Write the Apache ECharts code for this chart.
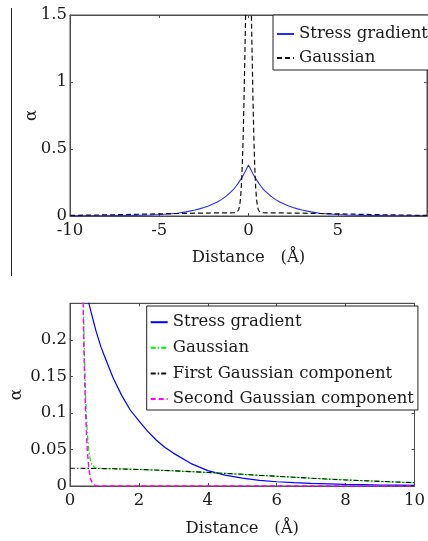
<!DOCTYPE html>
<html>
<head>
<meta charset="utf-8">
<style>
  html, body { margin: 0; padding: 0; background: #ffffff; }
  #chart { width: 428px; height: 541px; }
</style>
<script src="https://cdn.jsdelivr.net/npm/echarts@6/dist/echarts.min.js"></script>
</head>
<body>
<div id="chart"></div>
<script>
// ---- Data ----
// Distances (Å), non-negative side; profiles are symmetric about 0
const distPos = [0, 0.05, 0.1, 0.15, 0.2, 0.25, 0.3, 0.35, 0.4, 0.45, 0.5, 0.55, 0.6, 0.65, 0.7, 0.75, 0.8, 0.9, 1,
  1.25, 1.5, 1.75, 2, 2.25, 2.5, 2.75, 3, 3.5, 4, 4.5, 5, 5.5, 6, 6.5, 7, 7.5, 8, 8.5, 9, 9.5, 10];

const stressGradient = [0.38, 0.367, 0.354, 0.341, 0.328, 0.315, 0.303, 0.292, 0.281, 0.27, 0.26, 0.25, 0.24, 0.231, 0.222, 0.213, 0.205, 0.19, 0.178,
  0.148, 0.124, 0.104, 0.089, 0.075, 0.063, 0.053, 0.045, 0.031, 0.021, 0.0148, 0.0108, 0.0078, 0.0058, 0.0045, 0.0035, 0.0028, 0.0022, 0.0018, 0.0014, 0.0011, 0.0009];

const gaussianTotal = [2.2242, 2.1422, 1.9142, 1.5882, 1.2242, 0.8772, 0.5872, 0.3681, 0.2191, 0.1261, 0.0741, 0.0466, 0.0335, 0.0277, 0.0253, 0.0244, 0.0241, 0.0239, 0.0238,
  0.0236, 0.0233, 0.0230, 0.0226, 0.0222, 0.0218, 0.0213, 0.0208, 0.0197, 0.0185, 0.0173, 0.0160, 0.0146, 0.0133, 0.0120, 0.0107, 0.0095, 0.0083, 0.0073, 0.0063, 0.0054, 0.0046];

const firstGaussian = [0.0242, 0.0242, 0.0242, 0.0242, 0.0242, 0.0242, 0.0242, 0.0241, 0.0241, 0.0241, 0.0241, 0.0241, 0.0241, 0.0240, 0.0240, 0.0240, 0.0240, 0.0239, 0.0238,
  0.0236, 0.0233, 0.0230, 0.0226, 0.0222, 0.0218, 0.0213, 0.0208, 0.0197, 0.0185, 0.0173, 0.0160, 0.0146, 0.0133, 0.0120, 0.0107, 0.0095, 0.0083, 0.0073, 0.0063, 0.0054, 0.0046];

const secondGaussian = [2.2, 2.118, 1.890, 1.564, 1.200, 0.853, 0.563, 0.344, 0.195, 0.102, 0.050, 0.0225, 0.0094, 0.0037, 0.0013, 0.0004, 0.0001, 0, 0,
  0, 0, 0, 0, 0, 0, 0, 0, 0, 0, 0, 0, 0, 0, 0, 0, 0, 0, 0, 0, 0, 0];

const topLegend = ['Stress gradient', 'Gaussian'];
const bottomLegend = ['Stress gradient ', 'Gaussian ', 'First Gaussian component', 'Second Gaussian component'];
const xAxisTitle = 'Distance   (\u00C5)';
const yAxisTitle = '\u03B1';

// ---- Build tables ----
function half(vals) { return distPos.map((d, i) => [d, vals[i]]); }
function full(vals) {
  const neg = [];
  for (let i = distPos.length - 1; i > 0; i--) neg.push([-distPos[i], vals[i]]);
  return neg.concat(half(vals));
}

const FONT = 'DejaVu Serif';
const TXT = '#1a1a1a';
const BOX = '#4d4d4d';
const FS = 16.5;

function mainX(gridIndex, min, max, interval, showMax, nameGap) {
  return {
    type: 'value', gridIndex, min, max, interval, position: 'bottom',
    name: xAxisTitle, nameLocation: 'middle', nameGap, nameMoveOverlap: false,
    nameTextStyle: { fontFamily: FONT, fontSize: FS, color: TXT },
    axisLine: { show: true, onZero: false, lineStyle: { color: BOX, width: 1 } },
    axisTick: { show: true, inside: true, length: 3, lineStyle: { color: BOX } },
    axisLabel: { fontFamily: FONT, fontSize: FS, color: TXT, margin: 6, showMaxLabel: showMax, showMinLabel: true, hideOverlap: false },
    splitLine: { show: false }
  };
}
function boxX(gridIndex, min, max, interval) {
  return {
    type: 'value', gridIndex, min, max, interval, position: 'top',
    axisLine: { show: true, onZero: false, lineStyle: { color: BOX, width: 1 } },
    axisTick: { show: true, inside: true, length: 3, lineStyle: { color: BOX } },
    axisLabel: { show: false }, splitLine: { show: false }
  };
}
function mainY(gridIndex, min, max, interval, showMax, nameGap) {
  return {
    type: 'value', gridIndex, min, max, interval, position: 'left',
    name: yAxisTitle, nameLocation: 'middle', nameGap, nameRotate: 90, nameMoveOverlap: false,
    nameTextStyle: { fontFamily: FONT, fontSize: FS, color: TXT },
    axisLine: { show: true, onZero: false, lineStyle: { color: BOX, width: 1 } },
    axisTick: { show: true, inside: true, length: 3, lineStyle: { color: BOX } },
    axisLabel: { fontFamily: FONT, fontSize: FS, color: TXT, margin: 3, showMaxLabel: showMax, hideOverlap: false },
    splitLine: { show: false }
  };
}
function boxY(gridIndex, min, max, interval) {
  return {
    type: 'value', gridIndex, min, max, interval, position: 'right',
    axisLine: { show: true, onZero: false, lineStyle: { color: BOX, width: 1 } },
    axisTick: { show: true, inside: true, length: 3, lineStyle: { color: BOX } },
    axisLabel: { show: false }, splitLine: { show: false }
  };
}

function lineSeries(name, data, xi, yi, color, type, width) {
  return {
    name, type: 'line', data, xAxisIndex: xi, yAxisIndex: yi,
    symbol: 'none', showSymbol: false, smooth: false, clip: true, animation: false,
    lineStyle: { color, width: width || 1.2, type: type || 'solid' },
    itemStyle: { color }
  };
}

const legendText = { fontFamily: FONT, fontSize: FS, color: TXT };

const option = {
  animation: false,
  backgroundColor: '#ffffff',
  grid: [
    { left: 70, top: 15, width: 357, height: 201, show: true, borderColor: BOX, borderWidth: 1, containLabel: false },
    { left: 69.3, top: 303.3, width: 349.7, height: 182.7, show: true, borderColor: BOX, borderWidth: 1, containLabel: false }
  ],
  xAxis: [
    mainX(0, -10, 10, 5, false, 33),
    boxX(0, -10, 10, 5),
    mainX(1, 0, 10, 2, true, 34),
    boxX(1, 0, 10, 2)
  ],
  yAxis: [
    mainY(0, 0, 1.5, 0.5, true, 30),
    boxY(0, 0, 1.5, 0.5),
    mainY(1, 0, 0.25, 0.05, false, 45),
    boxY(1, 0, 0.25, 0.05)
  ],
  legend: [
    {
      data: topLegend, orient: 'vertical', left: 273, top: 15,
      padding: [10.5, 2, 3.5, 3], itemGap: 7, itemWidth: 17, itemHeight: 14,
      itemStyle: { opacity: 0, borderWidth: 0 },
      backgroundColor: '#ffffff', borderColor: '#222', borderWidth: 1, borderRadius: 0,
      textStyle: legendText, selectedMode: false
    },
    {
      data: bottomLegend, orient: 'vertical', left: 146.7, top: 306,
      padding: [7.7, 4, 2.5, 3], itemGap: 8.6, itemWidth: 17, itemHeight: 14,
      itemStyle: { opacity: 0, borderWidth: 0 },
      backgroundColor: '#ffffff', borderColor: '#222', borderWidth: 1, borderRadius: 0,
      textStyle: legendText, selectedMode: false
    }
  ],
  series: [
    lineSeries('Stress gradient', full(stressGradient), 0, 0, '#2a2aff', 'solid', 1.1),
    lineSeries('Gaussian', full(gaussianTotal), 0, 0, '#111111', [5, 3], 1.2),
    lineSeries('Stress gradient ', half(stressGradient), 2, 2, '#0000ff', 'solid', 1.2),
    lineSeries('Gaussian ', half(gaussianTotal), 2, 2, '#00ee00', [5, 2, 1.5, 2], 1.2),
    lineSeries('First Gaussian component', half(firstGaussian), 2, 2, '#111111', [5, 2, 1.5, 2], 1.1),
    lineSeries('Second Gaussian component', half(secondGaussian), 2, 2, '#ff00ff', [5, 3], 1.4)
  ],
  graphic: [
    { type: 'line', shape: { x1: 11.5, y1: 8, x2: 11.5, y2: 276 }, style: { stroke: '#222', lineWidth: 1 }, silent: true }
  ]
};

const chart = echarts.init(document.getElementById('chart'), null, { renderer: 'canvas' });
chart.setOption(option);
</script>
</body>
</html>
